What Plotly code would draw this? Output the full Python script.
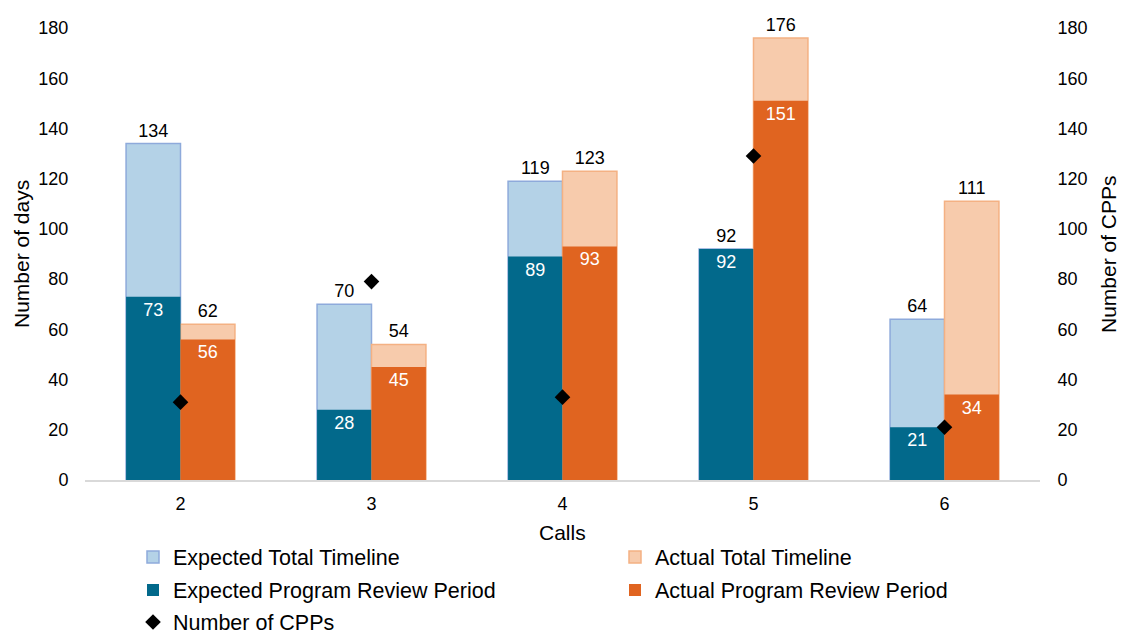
import plotly.graph_objects as go

calls = ["2", "3", "4", "5", "6"]
expected_total = [134, 70, 119, 92, 64]
expected_review = [73, 28, 89, 92, 21]
actual_total = [62, 54, 123, 176, 111]
actual_review = [56, 45, 93, 151, 34]
num_cpps = [31, 79, 33, 129, 21]

FONT = "Liberation Sans, Arial, sans-serif"
W = 0.285
LBL = 18

fig = go.Figure()
fig.add_trace(go.Bar(
    x=calls, y=expected_total, name="Expected Total Timeline",
    offset=-W, width=W, legend="legend",
    marker=dict(color="#B4D2E7", line=dict(color="#8EAADB", width=1.5)),
    text=expected_total, textposition="outside", constraintext="none",
    textfont=dict(color="black", size=LBL, family=FONT), cliponaxis=False,
))
fig.add_trace(go.Bar(
    x=calls, y=actual_total, name="Actual Total Timeline",
    offset=0, width=W, legend="legend2",
    marker=dict(color="#F7CBAC", line=dict(color="#F4B183", width=1.5)),
    text=actual_total, textposition="outside", constraintext="none",
    textfont=dict(color="black", size=LBL, family=FONT), cliponaxis=False,
))
fig.add_trace(go.Bar(
    x=calls, y=expected_review, name="Expected Program Review Period",
    offset=-W, width=W, legend="legend3",
    marker=dict(color="#02698B", line=dict(width=0)),
    text=expected_review, textposition="inside", insidetextanchor="end",
    constraintext="none",
    textfont=dict(color="white", size=LBL, family=FONT),
))
fig.add_trace(go.Bar(
    x=calls, y=actual_review, name="Actual Program Review Period",
    offset=0, width=W, legend="legend4",
    marker=dict(color="#E06420", line=dict(width=0)),
    text=actual_review, textposition="inside", insidetextanchor="end",
    constraintext="none",
    textfont=dict(color="white", size=LBL, family=FONT),
))
fig.add_trace(go.Scatter(
    x=calls, y=num_cpps, name="Number of CPPs", mode="markers",
    marker=dict(symbol="diamond", size=12, color="black"),
    yaxis="y2", legend="legend5",
))

def leg(xpx, ypx):
    return dict(
        orientation="v", xref="container", x=xpx / 1130, xanchor="left",
        yref="container", y=(637 - ypx) / 637, yanchor="middle",
        font=dict(size=21.5, family=FONT),
        bgcolor="rgba(0,0,0,0)",
    )

PLOT_L, PLOT_R, PLOT_T, PLOT_B = 85, 1040, 28, 480
PW, PH = PLOT_R - PLOT_L, PLOT_B - PLOT_T

fig.update_layout(
    width=1130, height=637,
    barmode="overlay",
    plot_bgcolor="white", paper_bgcolor="white",
    margin=dict(l=PLOT_L, r=1130 - PLOT_R, t=PLOT_T, b=637 - PLOT_B,
                autoexpand=False),
    font=dict(family=FONT, size=18, color="black"),
    xaxis=dict(
        type="category", range=[-0.5, 4.5],
        showline=True, linecolor="#D9D9D9", linewidth=1.5,
        ticks="outside", ticklen=7, tickcolor="rgba(0,0,0,0)", showgrid=False,
        tickfont=dict(size=18),
    ),
    yaxis=dict(
        range=[0, 180], dtick=20, showgrid=False, zeroline=False,
        ticks="outside", ticklen=12, tickcolor="rgba(0,0,0,0)",
        tickfont=dict(size=18),
    ),
    yaxis2=dict(
        range=[0, 180], dtick=20, showgrid=False, zeroline=False,
        overlaying="y", side="right",
        ticks="outside", ticklen=13, tickcolor="rgba(0,0,0,0)",
        tickfont=dict(size=18),
    ),
    legend=leg(133, 557),
    legend2=leg(615, 557),
    legend3=leg(133, 590),
    legend4=leg(615, 590),
    legend5=leg(133, 622),
    showlegend=True,
    annotations=[
        dict(text="Calls", xref="paper", yref="paper", x=0.5,
             y=(PLOT_B - 532) / PH, xanchor="center", yanchor="middle",
             showarrow=False, font=dict(size=21)),
        dict(text="Number of days", xref="paper", yref="paper",
             x=(21 - PLOT_L) / PW, y=0.5, xanchor="center", yanchor="middle",
             textangle=-90, showarrow=False, font=dict(size=21)),
        dict(text="Number of CPPs", xref="paper", yref="paper",
             x=(1108 - PLOT_L) / PW, y=0.5, xanchor="center", yanchor="middle",
             textangle=-90, showarrow=False, font=dict(size=21)),
    ],
)

fig.write_html("out.html")
